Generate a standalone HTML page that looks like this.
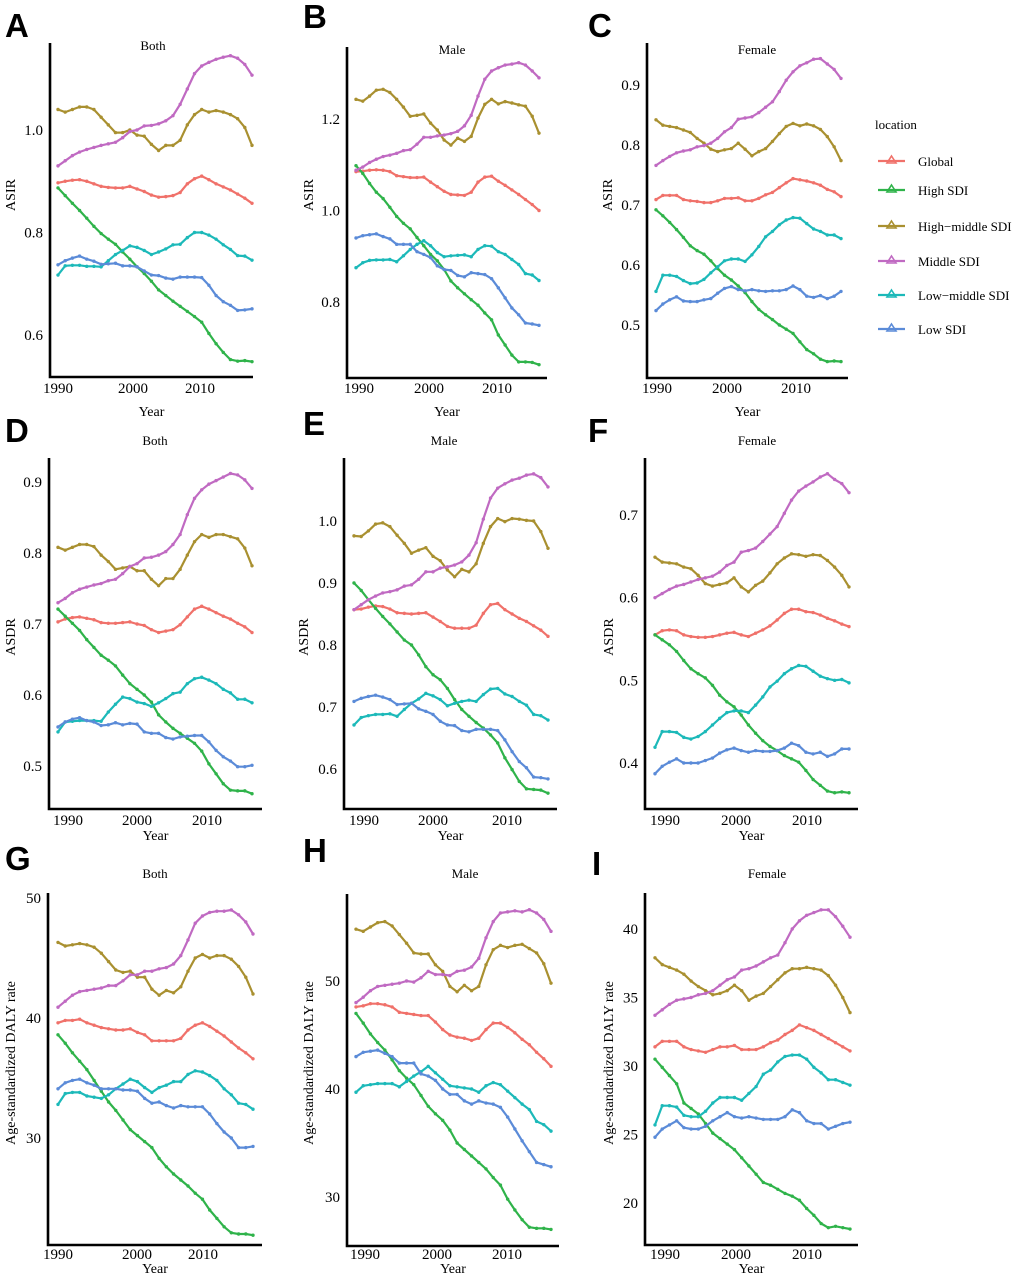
<!DOCTYPE html>
<html><head><meta charset="utf-8"><style>
html,body{margin:0;padding:0;background:#fff;}
svg{display:block;}
text{font-family:"Liberation Serif",serif;fill:#000;}
.letter{font-family:"Liberation Sans",sans-serif;font-weight:bold;font-size:33px;}
</style></head><body>
<svg id="fig" width="1020" height="1277" viewBox="0 0 1020 1277" xmlns="http://www.w3.org/2000/svg"></svg>
<script>
const years = [1990,1991,1992,1993,1994,1995,1996,1997,1998,1999,2000,2001,2002,2003,2004,2005,2006,2007,2008,2009,2010,2011,2012,2013,2014,2015,2016,2017];
const seriesNames = ["Global","High SDI","High\u2212middle SDI","Middle SDI","Low\u2212middle SDI","Low SDI"];
const seriesColors = ["#f0716a","#2fb34a","#a99030","#c06ac2","#1cb9b9","#5b8bd8"];

// Panel A ASIR Both
const A_global=[.897,.90,.902,.903,.90,.895,.89,.888,.887,.887,.89,.885,.88,.873,.869,.87,.872,.878,.895,.905,.91,.903,.895,.889,.883,.875,.867,.857];
const A_high=[.887,.872,.857,.843,.828,.812,.798,.787,.777,.762,.748,.733,.720,.705,.688,.677,.666,.656,.646,.636,.625,.603,.583,.566,.552,.549,.550,.548];
const A_highmid=[1.04,1.035,1.04,1.045,1.045,1.04,1.025,1.01,.995,.995,1.0,.99,.988,.972,.96,.97,.97,.98,1.01,1.03,1.04,1.035,1.038,1.035,1.03,1.022,1.005,.97];
const A_mid=[.93,.94,.95,.957,.962,.966,.970,.973,.976,.985,.997,1.0,1.008,1.009,1.012,1.018,1.028,1.05,1.08,1.11,1.125,1.132,1.138,1.142,1.145,1.14,1.128,1.107];
const A_lowmid=[.717,.735,.736,.736,.734,.734,.733,.745,.757,.765,.774,.771,.765,.757,.762,.768,.776,.777,.79,.80,.80,.795,.787,.776,.767,.755,.754,.746];
const A_low=[.737,.745,.75,.754,.748,.744,.738,.739,.74,.735,.735,.733,.725,.717,.716,.711,.709,.713,.713,.713,.712,.697,.677,.665,.658,.648,.649,.651];
// Panel B ASIR Male
const B_global=[1.085,1.086,1.088,1.089,1.088,1.085,1.076,1.074,1.072,1.072,1.073,1.062,1.052,1.042,1.035,1.034,1.033,1.04,1.062,1.073,1.075,1.064,1.055,1.045,1.035,1.024,1.013,1.0];
const B_high=[1.098,1.081,1.059,1.04,1.026,1.007,.987,.972,.96,.941,.923,.904,.89,.871,.846,.831,.818,.805,.793,.776,.761,.728,.706,.684,.669,.669,.668,.663];
const B_highmid=[1.243,1.239,1.25,1.263,1.265,1.258,1.243,1.226,1.206,1.208,1.211,1.191,1.176,1.154,1.143,1.158,1.151,1.162,1.202,1.232,1.243,1.233,1.238,1.235,1.231,1.228,1.206,1.169];
const B_mid=[1.088,1.095,1.105,1.112,1.118,1.121,1.125,1.131,1.133,1.145,1.16,1.16,1.163,1.165,1.168,1.173,1.185,1.208,1.25,1.287,1.305,1.312,1.318,1.32,1.323,1.318,1.305,1.29];
const B_lowmid=[.875,.886,.891,.892,.892,.893,.888,.901,.915,.926,.934,.923,.908,.899,.901,.902,.903,.899,.915,.923,.922,.91,.904,.893,.882,.862,.859,.847];
const B_low=[.94,.945,.947,.949,.943,.938,.926,.926,.926,.91,.904,.897,.879,.871,.869,.858,.855,.864,.862,.86,.851,.831,.809,.787,.772,.754,.752,.749];
// Panel C ASIR Female
const C_global=[.709,.716,.716,.716,.709,.707,.706,.704,.704,.707,.711,.711,.712,.707,.707,.711,.717,.721,.729,.737,.744,.742,.74,.737,.733,.726,.722,.714];
const C_high=[.692,.682,.671,.659,.646,.632,.624,.618,.607,.594,.583,.575,.565,.554,.539,.526,.517,.509,.5,.493,.486,.472,.459,.452,.443,.439,.44,.439];
const C_highmid=[.842,.833,.831,.829,.825,.821,.811,.803,.793,.789,.792,.794,.803,.793,.782,.789,.794,.806,.819,.831,.836,.832,.835,.832,.826,.814,.797,.774];
const C_mid=[.766,.774,.781,.787,.79,.792,.797,.799,.803,.811,.822,.829,.843,.845,.847,.854,.863,.872,.889,.908,.922,.932,.937,.943,.944,.935,.926,.911];
const C_lowmid=[.556,.583,.583,.581,.574,.569,.570,.576,.587,.597,.607,.61,.61,.606,.617,.631,.647,.656,.667,.675,.679,.678,.669,.66,.656,.65,.65,.644];
const C_low=[.524,.535,.542,.547,.54,.539,.539,.542,.544,.553,.561,.564,.559,.557,.559,.557,.556,.557,.557,.559,.565,.559,.548,.546,.549,.544,.548,.556];
// Panel D ASDR Both
const D_global=[.703,.707,.709,.71,.708,.706,.702,.701,.701,.702,.703,.7,.698,.692,.688,.69,.692,.699,.71,.721,.725,.721,.716,.711,.707,.701,.696,.688];
const D_high=[.721,.711,.701,.691,.678,.667,.656,.649,.641,.628,.616,.608,.6,.59,.572,.562,.553,.546,.539,.532,.521,.503,.489,.475,.466,.465,.465,.461];
const D_highmid=[.808,.804,.808,.812,.812,.809,.797,.788,.777,.779,.781,.775,.775,.763,.754,.764,.764,.777,.797,.816,.826,.822,.826,.826,.823,.82,.807,.782];
const D_mid=[.730,.736,.744,.749,.752,.755,.757,.761,.763,.771,.781,.785,.793,.794,.797,.802,.812,.826,.854,.877,.889,.897,.902,.907,.912,.91,.903,.891];
const D_lowmid=[.548,.562,.563,.564,.564,.564,.563,.576,.587,.597,.595,.59,.588,.584,.589,.595,.602,.604,.616,.623,.625,.621,.616,.608,.603,.594,.594,.589];
const D_low=[.555,.562,.566,.568,.564,.562,.557,.558,.561,.558,.56,.559,.548,.546,.546,.54,.538,.541,.542,.543,.543,.534,.522,.513,.507,.499,.499,.501];
// Panel E ASDR Male
const E_global=[.857,.858,.861,.863,.862,.858,.852,.851,.85,.851,.852,.845,.838,.83,.827,.827,.827,.832,.851,.865,.867,.857,.85,.843,.838,.831,.824,.814];
const E_high=[.9,.888,.873,.859,.846,.834,.821,.808,.8,.784,.765,.752,.744,.73,.712,.696,.685,.675,.666,.655,.642,.618,.599,.58,.568,.567,.566,.561];
const E_highmid=[.976,.975,.984,.995,.997,.991,.977,.964,.948,.953,.957,.943,.936,.921,.91,.922,.918,.931,.964,.991,1.004,.999,1.004,1.003,1.001,1.0,.983,.956];
const E_mid=[.857,.865,.873,.879,.884,.886,.889,.895,.897,.906,.918,.918,.924,.926,.929,.934,.945,.965,1.003,1.037,1.053,1.06,1.066,1.069,1.074,1.076,1.07,1.055];
const E_lowmid=[.671,.683,.686,.688,.688,.689,.685,.696,.706,.713,.722,.718,.712,.702,.706,.709,.711,.709,.72,.729,.73,.721,.717,.709,.703,.688,.686,.679];
const E_low=[.709,.714,.717,.719,.716,.712,.704,.705,.706,.697,.693,.688,.677,.671,.67,.662,.66,.664,.664,.664,.662,.647,.628,.612,.602,.587,.586,.584];
// Panel F ASDR Female
const F_global=[.555,.56,.561,.56,.555,.553,.552,.552,.553,.555,.557,.558,.555,.553,.557,.561,.566,.573,.581,.586,.586,.583,.582,.579,.575,.572,.568,.565];
const F_high=[.555,.549,.543,.535,.524,.514,.508,.503,.494,.482,.474,.468,.458,.446,.436,.427,.42,.415,.409,.405,.401,.391,.38,.373,.366,.364,.365,.364];
const F_highmid=[.649,.643,.642,.641,.637,.635,.627,.617,.614,.616,.618,.624,.613,.607,.615,.62,.63,.641,.648,.653,.652,.650,.652,.651,.645,.637,.627,.613];
const F_mid=[.6,.605,.61,.614,.616,.619,.622,.624,.626,.631,.639,.643,.655,.657,.66,.668,.677,.686,.702,.718,.729,.735,.74,.746,.75,.743,.738,.727];
const F_lowmid=[.419,.438,.438,.437,.431,.429,.432,.438,.446,.454,.461,.463,.463,.461,.47,.48,.492,.499,.508,.514,.518,.517,.511,.505,.502,.5,.501,.497];
const F_low=[.387,.396,.401,.405,.4,.4,.4,.403,.406,.412,.416,.418,.415,.413,.415,.414,.414,.415,.418,.424,.421,.413,.411,.413,.408,.411,.417,.417];
// Panel G DALY Both
const G_global=[39.6,39.8,39.8,39.9,39.6,39.4,39.2,39.1,39.0,39.0,39.1,38.8,38.6,38.1,38.1,38.1,38.1,38.3,39.0,39.4,39.6,39.3,38.9,38.5,38.0,37.5,37.1,36.6];
const G_high=[38.6,37.9,37.1,36.4,35.7,34.8,33.9,33.0,32.3,31.5,30.7,30.2,29.7,29.2,28.3,27.6,27.0,26.5,26.0,25.4,24.9,24.0,23.3,22.6,22.1,22.0,22.0,21.9];
const G_highmid=[46.3,46.0,46.1,46.2,46.1,45.9,45.4,44.7,44.0,43.8,43.9,43.4,43.4,42.4,41.9,42.3,42.1,42.6,43.9,45.0,45.3,45.0,45.2,45.2,44.9,44.3,43.4,42.0];
const G_mid=[40.9,41.4,41.9,42.2,42.3,42.4,42.5,42.7,42.7,43.1,43.6,43.6,43.9,43.9,44.1,44.2,44.5,45.2,46.5,47.9,48.5,48.8,48.9,48.9,49.0,48.6,48.0,47.0];
const G_lowmid=[32.8,33.7,33.8,33.8,33.5,33.4,33.3,33.6,34.1,34.5,34.9,34.7,34.2,33.8,34.2,34.4,34.7,34.7,35.3,35.6,35.5,35.2,34.8,34.1,33.6,32.9,32.8,32.4];
const G_low=[34.1,34.6,34.8,34.9,34.6,34.4,34.1,34.1,34.1,34.0,34.0,33.9,33.3,32.9,33.0,32.7,32.5,32.7,32.6,32.6,32.6,32.0,31.2,30.5,30.0,29.2,29.2,29.3];
// Panel H DALY Male
const H_global=[47.6,47.7,47.9,47.9,47.8,47.6,47.1,47.0,46.9,46.8,46.8,46.2,45.5,45.0,44.8,44.7,44.5,44.7,45.5,46.1,46.1,45.7,45.2,44.6,44.1,43.4,42.8,42.1];
const H_high=[47.0,46.1,45.1,44.3,43.6,42.7,41.7,41.0,40.4,39.4,38.4,37.7,37.1,36.2,35.0,34.4,33.8,33.2,32.6,31.8,31.1,29.8,28.8,27.9,27.2,27.1,27.1,27.0];
const H_highmid=[54.8,54.6,55.0,55.4,55.5,55.1,54.3,53.5,52.6,52.5,52.5,51.5,50.9,49.5,49.0,49.6,49.1,49.5,51.5,52.9,53.3,53.1,53.3,53.4,53.0,52.6,51.6,49.8];
const H_mid=[48.0,48.5,49.1,49.5,49.6,49.7,49.8,50.0,49.9,50.3,50.9,50.6,50.6,50.5,50.9,51.0,51.3,52.1,54.0,55.5,56.3,56.4,56.5,56.4,56.6,56.3,55.7,54.6];
const H_lowmid=[39.7,40.3,40.4,40.5,40.5,40.5,40.2,40.7,41.2,41.6,42.1,41.5,40.9,40.3,40.2,40.1,40.0,39.7,40.3,40.6,40.4,39.8,39.2,38.6,38.1,37.0,36.7,36.1];
const H_low=[43.0,43.4,43.5,43.6,43.3,43.0,42.4,42.4,42.4,41.4,41.2,40.8,40.0,39.5,39.5,38.9,38.6,38.9,38.7,38.6,38.3,37.4,36.3,35.2,34.2,33.2,33.0,32.8];
// Panel I DALY Female
const I_global=[31.4,31.8,31.8,31.8,31.4,31.2,31.1,31.0,31.2,31.4,31.4,31.5,31.2,31.2,31.2,31.4,31.7,31.9,32.3,32.6,33.0,32.8,32.6,32.3,32.0,31.7,31.4,31.1];
const I_high=[30.5,29.9,29.3,28.7,27.3,26.9,26.5,25.8,25.1,24.7,24.3,23.9,23.3,22.7,22.1,21.5,21.3,21.0,20.7,20.5,20.2,19.6,19.1,18.5,18.2,18.3,18.2,18.1];
const I_highmid=[37.9,37.4,37.2,37.0,36.7,36.2,35.8,35.5,35.2,35.3,35.5,35.9,35.5,34.8,35.1,35.3,35.8,36.3,36.8,37.1,37.1,37.2,37.1,37.0,36.6,35.9,35.0,33.9];
const I_mid=[33.7,34.1,34.5,34.8,34.9,35.0,35.2,35.3,35.5,35.9,36.3,36.5,37.0,37.1,37.3,37.6,37.9,38.1,39.0,40.0,40.6,41.0,41.2,41.4,41.4,40.9,40.2,39.4];
const I_lowmid=[25.7,27.1,27.1,27.0,26.4,26.3,26.3,26.7,27.3,27.7,27.7,27.7,27.5,28.0,28.5,29.4,29.7,30.3,30.7,30.8,30.8,30.5,29.9,29.5,29.0,29.0,28.8,28.6];
const I_low=[24.8,25.4,25.7,26.0,25.5,25.4,25.4,25.6,26.0,26.3,26.6,26.3,26.2,26.3,26.2,26.1,26.1,26.1,26.3,26.8,26.6,26.0,25.8,25.8,25.4,25.6,25.8,25.9];

const xTickYears=[1990,2000,2010];
const A_ticks=["0.6","0.8","1.0"], B_ticks=["0.8","1.0","1.2"], C_ticks=["0.5","0.6","0.7","0.8","0.9"];
const D_ticks=["0.5","0.6","0.7","0.8","0.9"], E_ticks=["0.6","0.7","0.8","0.9","1.0"], F_ticks=["0.4","0.5","0.6","0.7"];
const G_ticks=["30","40","50"], H_ticks=["30","40","50"], I_ticks=["20","25","30","35","40"];

const NS="http://www.w3.org/2000/svg";
const svg=document.getElementById('fig');
function mk(tag,attrs,parent){const e=document.createElementNS(NS,tag);for(const k in attrs)e.setAttribute(k,attrs[k]);(parent||svg).appendChild(e);return e;}
function txt(s,attrs,parent){const e=mk('text',attrs,parent);e.textContent=s;return e;}

// layout: axis box, data x range (first/last year px), x tick label px, y calibration (v1,px1,v2,px2)
const panels=[
 {id:'a',letter:'A',lx:5,ly:37,title:'Both',yt:'ASIR',ax:50,top:43,bot:377,right:253,x0:58,x1:252,xt:[58,133,200],v1:1.0,p1:130,v2:0.6,p2:335,ticks:A_ticks,tx:153,ty:50,ytx:12,yty:195,xlY:393,yearY:416,
  data:[A_global,A_high,A_highmid,A_mid,A_lowmid,A_low]},
 {id:'b',letter:'B',lx:303,ly:28,title:'Male',yt:'ASIR',ax:347,top:47,bot:378,right:547,x0:356,x1:539,xt:[359,429,497],v1:1.2,p1:119,v2:0.8,p2:302,ticks:B_ticks,tx:452,ty:54,ytx:310,yty:195,xlY:393,yearY:416,
  data:[B_global,B_high,B_highmid,B_mid,B_lowmid,B_low]},
 {id:'c',letter:'C',lx:588,ly:37,title:'Female',yt:'ASIR',ax:647,top:43,bot:378,right:848,x0:656,x1:841,xt:[657,727,796],v1:0.9,p1:85,v2:0.5,p2:325,ticks:C_ticks,tx:757,ty:54,ytx:609,yty:195,xlY:393,yearY:416,
  data:[C_global,C_high,C_highmid,C_mid,C_lowmid,C_low]},
 {id:'d',letter:'D',lx:5,ly:442,title:'Both',yt:'ASDR',ax:49,top:458,bot:809,right:262,x0:58,x1:252,xt:[68,137,207],v1:0.9,p1:482,v2:0.5,p2:766,ticks:D_ticks,tx:155,ty:445,ytx:12,yty:637,xlY:825,yearY:840,
  data:[D_global,D_high,D_highmid,D_mid,D_lowmid,D_low]},
 {id:'e',letter:'E',lx:303,ly:435,title:'Male',yt:'ASDR',ax:344,top:458,bot:809,right:557,x0:354,x1:548,xt:[364,433,507],v1:1.0,p1:521,v2:0.6,p2:769,ticks:E_ticks,tx:444,ty:445,ytx:305,yty:637,xlY:825,yearY:840,
  data:[E_global,E_high,E_highmid,E_mid,E_lowmid,E_low]},
 {id:'f',letter:'F',lx:588,ly:442,title:'Female',yt:'ASDR',ax:645,top:458,bot:809,right:858,x0:655,x1:849,xt:[665,736,807],v1:0.7,p1:515,v2:0.4,p2:763,ticks:F_ticks,tx:757,ty:445,ytx:610,yty:637,xlY:825,yearY:840,
  data:[F_global,F_high,F_highmid,F_mid,F_lowmid,F_low]},
 {id:'g',letter:'G',lx:5,ly:870,title:'Both',yt:'Age-standardized DALY rate',ax:48,top:893,bot:1245,right:262,x0:58,x1:253,xt:[58,137,203],v1:50,p1:898,v2:30,p2:1138,ticks:G_ticks,tx:155,ty:878,ytx:12,yty:1063,xlY:1259,yearY:1273,
  data:[G_global,G_high,G_highmid,G_mid,G_lowmid,G_low]},
 {id:'h',letter:'H',lx:303,ly:862,title:'Male',yt:'Age-standardized DALY rate',ax:347,top:894,bot:1246,right:559,x0:356,x1:551,xt:[365,437,507],v1:50,p1:981,v2:30,p2:1197,ticks:H_ticks,tx:465,ty:878,ytx:310,yty:1063,xlY:1259,yearY:1273,
  data:[H_global,H_high,H_highmid,H_mid,H_lowmid,H_low]},
 {id:'i',letter:'I',lx:592,ly:875,title:'Female',yt:'Age-standardized DALY rate',ax:645,top:893,bot:1245,right:858,x0:655,x1:850,xt:[665,736,807],v1:40,p1:929,v2:20,p2:1203,ticks:I_ticks,tx:767,ty:878,ytx:610,yty:1063,xlY:1259,yearY:1273,
  data:[I_global,I_high,I_highmid,I_mid,I_lowmid,I_low]}
];
const keys=['global','high-sdi','high-middle-sdi','middle-sdi','low-middle-sdi','low-sdi'];

panels.forEach(p=>{
  const g=mk('g',{});
  
  
  const xs=i=>p.x0+(p.x1-p.x0)*(years[i]-years[0])/(years[years.length-1]-years[0]);
  const ys=v=>p.p1+(v-p.v1)*(p.p2-p.p1)/(p.v2-p.v1);
  const L=txt(p.letter,{x:p.lx,y:p.ly,class:'letter'},g);
  
  
  const T=txt(p.title,{x:p.tx,y:p.ty,'text-anchor':'middle','font-size':13},g);
  
  
  const YT=txt(p.yt,{x:p.ytx,y:p.yty,'text-anchor':'middle','font-size':14,transform:`rotate(-90 ${p.ytx} ${p.yty})`,'dominant-baseline':'middle'},g);
  
  
  const XT=txt('Year',{x:(p.ax+p.right)/2,y:p.yearY,'text-anchor':'middle','font-size':14},g);
  
  
  p.ticks.forEach(t=>{
    const e=txt(t,{x:p.ax-7,y:ys(parseFloat(t))+5,'text-anchor':'end','font-size':15},g);
    
    
  });
  xTickYears.forEach((yr,k)=>{
    const e=txt(String(yr),{x:p.xt[k],y:p.xlY,'text-anchor':'middle','font-size':15},g);
    
    
  });
  p.data.forEach((arr,s)=>{
    const pts=arr.map((v,i)=>xs(i).toFixed(1)+','+ys(v).toFixed(1)).join(' ');
    const pl=mk('polyline',{points:pts,fill:'none',stroke:seriesColors[s],'stroke-width':2.2,'stroke-linejoin':'round'},g);
    
    
    arr.forEach((v,i)=>{
      const c=mk('circle',{cx:xs(i),cy:ys(v),r:1.7,fill:seriesColors[s]},g);
      
      
    });
  });
  const axl=mk('path',{d:`M${p.ax},${p.top} L${p.ax},${p.bot} L${p.right},${p.bot}`,fill:'none',stroke:'#000','stroke-width':2.6},g);
  
  
});

// legend
const lg=mk('g',{});


const lt=txt('location',{x:875,y:129,'font-size':13},lg);


const legY=[161,190,226,261,295,329];
seriesNames.forEach((n,s)=>{
  const y=legY[s];
  const e=mk('g',{},lg);
  
  
  mk('line',{x1:878,y1:y,x2:905,y2:y,stroke:seriesColors[s],'stroke-width':2.2},e);
  mk('path',{d:`M${891.5},${y-5} L${896},${y+2} L${887},${y+2} Z`,fill:'none',stroke:seriesColors[s],'stroke-width':1.6},e);
  txt(n,{x:918,y:y+5,'font-size':13},e);
});
</script>
</body></html>
